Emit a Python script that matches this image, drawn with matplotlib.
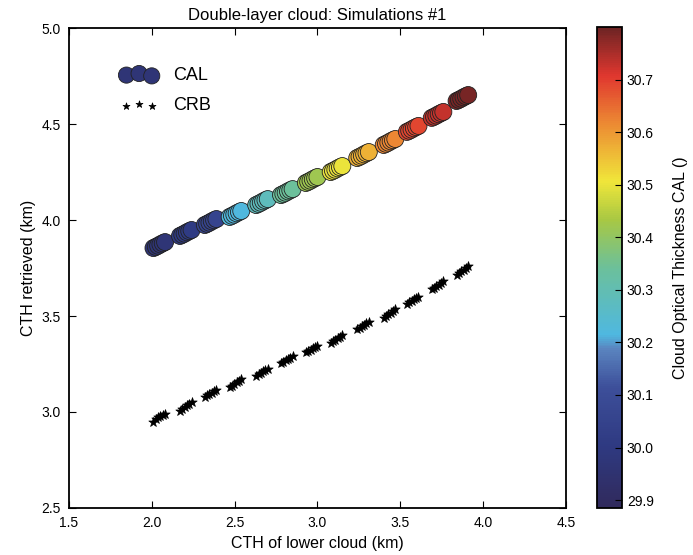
import matplotlib
matplotlib.use("Agg")
import matplotlib.pyplot as plt
from matplotlib.colors import LinearSegmentedColormap

plt.rcParams["font.family"] = ["Liberation Sans", "DejaVu Sans"]

# CTH of the lower cloud (km), shared by both retrievals
lower_cth = [2.010, 2.024, 2.038, 2.052, 2.066, 2.080,
             2.170, 2.184, 2.198, 2.212, 2.226, 2.240,
             2.320, 2.334, 2.348, 2.362, 2.376, 2.390,
             2.470, 2.484, 2.498, 2.512, 2.526, 2.540,
             2.630, 2.644, 2.658, 2.672, 2.686, 2.700,
             2.780, 2.794, 2.808, 2.822, 2.836, 2.850,
             2.930, 2.944, 2.958, 2.972, 2.986, 3.000,
             3.080, 3.094, 3.108, 3.122, 3.136, 3.150,
             3.240, 3.254, 3.268, 3.282, 3.296, 3.310,
             3.400, 3.414, 3.428, 3.442, 3.456, 3.470,
             3.540, 3.554, 3.568, 3.582, 3.596, 3.610,
             3.690, 3.704, 3.718, 3.732, 3.746, 3.760,
             3.840, 3.854, 3.868, 3.882, 3.896, 3.910]

# CTH retrieved by CAL (km)
cal_cth = [3.854, 3.860, 3.866, 3.873, 3.879, 3.885,
           3.917, 3.923, 3.929, 3.936, 3.942, 3.948,
           3.974, 3.980, 3.986, 3.993, 3.999, 4.005,
           4.016, 4.022, 4.028, 4.035, 4.041, 4.047,
           4.078, 4.084, 4.090, 4.097, 4.103, 4.109,
           4.130, 4.136, 4.142, 4.149, 4.155, 4.161,
           4.193, 4.199, 4.205, 4.212, 4.218, 4.224,
           4.250, 4.256, 4.262, 4.269, 4.275, 4.281,
           4.323, 4.329, 4.335, 4.342, 4.348, 4.354,
           4.391, 4.397, 4.403, 4.410, 4.416, 4.422,
           4.459, 4.465, 4.471, 4.478, 4.484, 4.490,
           4.532, 4.538, 4.544, 4.551, 4.557, 4.563,
           4.620, 4.626, 4.632, 4.639, 4.645, 4.651]

# CTH retrieved by CRB (km)
crb_cth = [2.950, 2.966, 2.972, 2.978, 2.984, 2.990,
           3.005, 3.018, 3.026, 3.034, 3.042, 3.050,
           3.080, 3.087, 3.094, 3.101, 3.108, 3.115,
           3.130, 3.138, 3.146, 3.154, 3.162, 3.170,
           3.190, 3.197, 3.204, 3.211, 3.218, 3.225,
           3.255, 3.262, 3.269, 3.276, 3.283, 3.290,
           3.310, 3.317, 3.324, 3.331, 3.338, 3.345,
           3.360, 3.368, 3.376, 3.384, 3.392, 3.400,
           3.430, 3.438, 3.446, 3.454, 3.462, 3.470,
           3.490, 3.499, 3.508, 3.517, 3.526, 3.535,
           3.565, 3.572, 3.579, 3.586, 3.593, 3.600,
           3.640, 3.648, 3.656, 3.664, 3.672, 3.680,
           3.715, 3.724, 3.733, 3.742, 3.751, 3.760]

# cloud optical thickness from CAL
cal_cot = [29.97, 29.97, 29.97, 29.97, 29.97, 29.97,
           30.01, 30.01, 30.01, 30.01, 30.01, 30.01,
           30.06, 30.06, 30.06, 30.06, 30.06, 30.06,
           30.22, 30.22, 30.22, 30.22, 30.22, 30.22,
           30.28, 30.28, 30.28, 30.28, 30.28, 30.28,
           30.34, 30.34, 30.34, 30.34, 30.34, 30.34,
           30.42, 30.42, 30.42, 30.42, 30.42, 30.42,
           30.50, 30.50, 30.50, 30.50, 30.50, 30.50,
           30.57, 30.57, 30.57, 30.57, 30.57, 30.57,
           30.62, 30.62, 30.62, 30.62, 30.62, 30.62,
           30.69, 30.69, 30.69, 30.69, 30.69, 30.69,
           30.73, 30.73, 30.73, 30.73, 30.73, 30.73,
           30.79, 30.79, 30.79, 30.79, 30.79, 30.79]

cbar_ticks = [29.9, 30.0, 30.1, 30.2, 30.3, 30.4, 30.5, 30.6, 30.7]

# muted jet, as in the printed figure
cmap = LinearSegmentedColormap.from_list("mjet", [
    (0.00, "#302a5c"), (0.13, "#2f3a82"), (0.25, "#3d4f9a"),
    (0.33, "#5a84bf"), (0.36, "#4fb8e0"), (0.50, "#6cc09a"),
    (0.60, "#a8c843"), (0.68, "#f0e63a"), (0.80, "#ec8a33"),
    (0.90, "#e0372f"), (1.00, "#6e2424")])

fig = plt.figure(figsize=(6.93, 5.55), dpi=100)
ax = fig.add_axes([0.0996, 0.0847, 0.717, 0.8648])
cax = fig.add_axes([0.8615, 0.0847, 0.036, 0.8665])

sc = ax.scatter(lower_cth, cal_cth, c=cal_cot, cmap=cmap, vmin=29.885, vmax=30.80,
                s=150, edgecolors="#222222", linewidths=0.6, label="CAL", zorder=3)
ax.scatter(lower_cth, crb_cth, c="black", marker="*", s=50, linewidths=0.5,
           label="CRB", zorder=3)

ax.set_xlim(1.5, 4.5)
ax.set_ylim(2.5, 5.0)
ax.set_xticks([1.5, 2.0, 2.5, 3.0, 3.5, 4.0, 4.5])
ax.set_yticks([2.5, 3.0, 3.5, 4.0, 4.5, 5.0])
ax.tick_params(direction="in", top=True, right=True, length=5, labelsize=10, pad=6)
for sp in ax.spines.values():
    sp.set_linewidth(1.3)
ax.set_xlabel("CTH of lower cloud (km)", fontsize=11.5)
ax.set_ylabel("CTH retrieved (km)", fontsize=11.5)
ax.set_title("Double-layer cloud: Simulations #1", fontsize=12)

leg = ax.legend(loc="upper left", bbox_to_anchor=(0.072, 0.953), scatterpoints=3,
                frameon=False, fontsize=13, markerscale=0.95, handletextpad=0.9,
                labelspacing=0.75)
leg.legend_handles[0].set_color(cmap(0.1))
leg.legend_handles[0].set_edgecolor("#222222")
leg.legend_handles[1].set_sizes([28])

cb = fig.colorbar(sc, cax=cax, ticks=cbar_ticks)
cb.ax.tick_params(direction="in", length=5, labelsize=10)
cb.outline.set_linewidth(1.3)
cb.set_label("Cloud Optical Thickness CAL ()", fontsize=11.5, labelpad=14)

fig.savefig("out.png", dpi=100)
